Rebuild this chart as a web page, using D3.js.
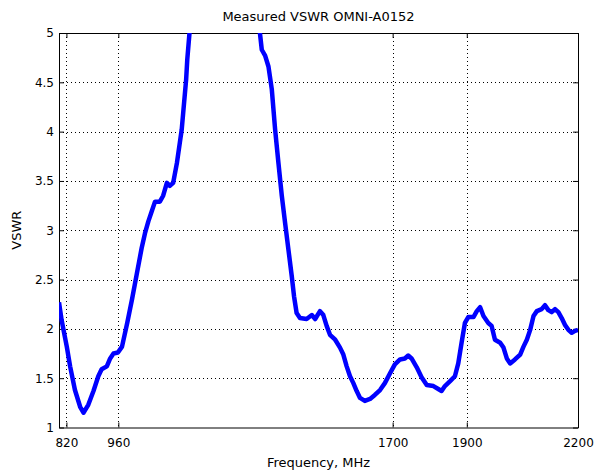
<!DOCTYPE html>
<html><head><meta charset="utf-8">
<script src="https://cdn.jsdelivr.net/npm/d3@7"></script>
<style>body{margin:0;background:#fff}svg{display:block}text{font-family:"DejaVu Sans",sans-serif;fill:#000}</style>
</head><body><svg id="c" width="595" height="473"></svg>
<script>
const title = "Measured VSWR OMNI-A0152";
const xLabel = "Frequency, MHz";
const yLabel = "VSWR";
const xTicks = [820, 960, 1700, 1900, 2200];
const yTicks = [1, 1.5, 2, 2.5, 3, 3.5, 4, 4.5, 5];
const freq = [800,807,821,830,843,857,866,879,893,906,915,929,938,947,959,970,984,997,1010,1023,1032,1041,1050,1059,1072,1081,1091,1099,1108,1118,1126,1131,1135,1143,1146,1152,1165,1200,1250,1300,1335,1342,1347,1356,1365,1374,1383,1392,1401,1410,1419,1428,1434,1441,1450,1468,1482,1491,1504,1513,1522,1531,1545,1558,1567,1576,1585,1594,1603,1612,1625,1639,1652,1666,1679,1693,1706,1720,1733,1742,1751,1765,1778,1792,1810,1823,1832,1841,1855,1868,1877,1886,1895,1904,1918,1927,1936,1945,1958,1967,1976,1990,1999,2008,2017,2030,2044,2053,2062,2071,2080,2089,2102,2111,2120,2129,2138,2147,2156,2165,2174,2183,2192,2200];
const vswr = [2.27,2.09,1.82,1.62,1.38,1.21,1.15,1.23,1.37,1.52,1.59,1.62,1.70,1.75,1.76,1.82,2.06,2.30,2.56,2.82,2.97,3.09,3.19,3.29,3.29,3.35,3.48,3.45,3.48,3.68,3.89,4.02,4.19,4.53,4.73,5.0,5.6,6.2,6.4,6.1,5.4,5.0,4.83,4.77,4.66,4.43,4.02,3.68,3.35,3.07,2.80,2.53,2.33,2.16,2.11,2.10,2.14,2.10,2.18,2.14,2.03,1.94,1.89,1.81,1.74,1.62,1.52,1.45,1.37,1.30,1.27,1.29,1.33,1.38,1.45,1.55,1.64,1.69,1.70,1.73,1.70,1.61,1.51,1.43,1.42,1.39,1.37,1.42,1.47,1.52,1.65,1.86,2.06,2.12,2.12,2.18,2.22,2.13,2.06,2.03,1.89,1.86,1.81,1.70,1.65,1.69,1.74,1.82,1.89,1.99,2.13,2.18,2.20,2.24,2.19,2.17,2.20,2.17,2.11,2.04,1.99,1.96,1.98,1.99];

const svg = d3.select("#c");
const m = {l:59, r:578, t:33, b:427.5};
const x = d3.scaleLinear().domain([800, 2200]).range([m.l, m.r]);
const y = d3.scaleLinear().domain([1, 5]).range([m.b, m.t]);

svg.append("defs").append("clipPath").attr("id","clip")
  .append("rect").attr("x",m.l).attr("y",m.t).attr("width",m.r-m.l).attr("height",m.b-m.t);

// grid
const grid = svg.append("g").attr("stroke","#000").attr("stroke-width",1).attr("stroke-dasharray","1,3");
grid.selectAll(".gx").data(xTicks.filter(d=>d<2200)).enter().append("line")
  .attr("x1",d=>Math.round(x(d))+0.5).attr("x2",d=>Math.round(x(d))+0.5).attr("y1",m.t).attr("y2",m.b);
grid.selectAll(".gy").data(yTicks.filter(d=>d>1&&d<5)).enter().append("line")
  .attr("y1",d=>Math.round(y(d))+0.5).attr("y2",d=>Math.round(y(d))+0.5).attr("x1",m.l).attr("x2",m.r);

// axes
const axB = d3.axisBottom(x).tickValues(xTicks).tickSizeInner(-5).tickSizeOuter(0).tickPadding(11).tickFormat(d3.format("d"));
const axL = d3.axisLeft(y).tickValues(yTicks).tickSizeInner(-5).tickSizeOuter(0).tickPadding(5).tickFormat(d=>String(d));
const axT = d3.axisTop(x).tickValues(xTicks).tickSizeInner(-5).tickSizeOuter(0).tickFormat("");
const axR = d3.axisRight(y).tickValues(yTicks).tickSizeInner(-5).tickSizeOuter(0).tickFormat("");
const gB = svg.append("g").attr("transform",`translate(0,${m.b})`).call(axB);
const gL = svg.append("g").attr("transform",`translate(${m.l},0)`).call(axL);
const gT = svg.append("g").attr("transform",`translate(0,${m.t})`).call(axT);
const gR = svg.append("g").attr("transform",`translate(${m.r},0)`).call(axR);
[gB,gL,gT,gR].forEach(g=>{
  g.selectAll("text").style("font-family","'DejaVu Sans',sans-serif").style("font-size","12px").attr("fill","#000");
  g.selectAll("path,line").attr("stroke","#000");
});

// line
svg.append("path").datum(freq.map((f,i)=>[f,vswr[i]]))
  .attr("clip-path","url(#clip)")
  .attr("fill","none").attr("stroke","#0000ff").attr("stroke-width",4.5).attr("stroke-linejoin","round")
  .attr("d", d3.line().x(d=>x(d[0])).y(d=>y(d[1])));

// labels
svg.append("text").attr("x",(m.l+m.r)/2).attr("y",21).attr("text-anchor","middle").style("font-size","13px").text(title);
svg.append("text").attr("x",(m.l+m.r)/2).attr("y",467).attr("text-anchor","middle").style("font-size","13px").text(xLabel);
svg.append("text").attr("transform",`translate(21,${(m.t+m.b)/2}) rotate(-90)`).attr("text-anchor","middle").style("font-size","13px").text(yLabel);
</script></body></html>
